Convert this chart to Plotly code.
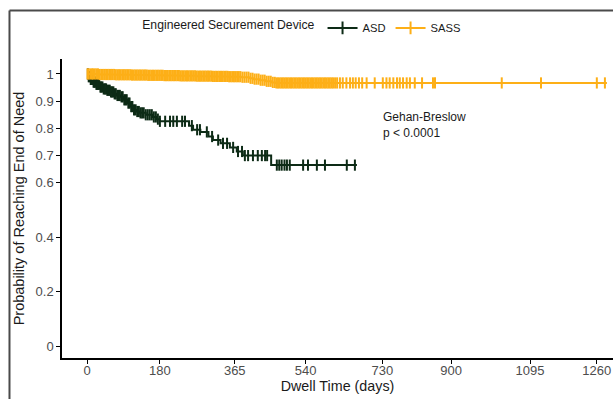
import numpy as np
import plotly.graph_objects as go

# ---------------- data ----------------
x_ticks = [0, 180, 365, 540, 730, 900, 1095, 1260]
y_ticks = [0, 0.2, 0.4, 0.6, 0.7, 0.8, 0.9, 1]
y_tick_labels = ["0", "0.2", "0.4", "0.6", "0.7", "0.8", "0.9", "1"]

asd_event_times = [3, 8, 15, 22, 32, 40, 48, 57, 66, 74, 82, 90, 99, 106, 114, 122,
                   131, 145, 163, 172, 180, 252, 262, 280, 300, 311, 330, 353, 370,
                   385, 455]
asd_surv = [0.99, 0.98, 0.97, 0.962, 0.952, 0.945, 0.94, 0.934, 0.927, 0.921, 0.916,
            0.905, 0.893, 0.88, 0.868, 0.862, 0.857, 0.85, 0.842, 0.834, 0.826,
            0.81, 0.795, 0.787, 0.77, 0.757, 0.745, 0.73, 0.715, 0.70, 0.665]
asd_end = 667
asd_censor = [2, 4, 6, 9, 11, 13, 16, 18, 20, 23, 25, 27, 30, 33, 35, 38, 41, 44, 47,
              50, 53, 56, 59, 62, 65, 68, 71, 75, 78, 81, 85, 88, 92, 95, 98, 102,
              105, 109, 112, 116, 120, 124, 128, 132, 136, 140, 145, 150, 155, 160,
              165, 170, 175, 180, 193, 205, 213, 222, 235, 242, 259, 272, 279, 296,
              309, 324, 336, 346, 361, 373, 383, 390, 398, 410, 422, 432, 440, 445,
              469, 475, 481, 488, 494, 501, 534, 546, 568, 588, 642, 662]

sass_event_times = [30, 70, 110, 150, 190, 230, 270, 310, 350, 380, 400, 410, 425,
                    440, 455, 465]
sass_surv = [0.998, 0.997, 0.996, 0.995, 0.994, 0.993, 0.992, 0.991, 0.99, 0.988,
             0.984, 0.981, 0.977, 0.973, 0.969, 0.967]
sass_end = 1285
sass_censor = [1, 4, 8, 12, 15, 19, 23, 27, 31, 35, 39, 43, 47, 51, 55, 59, 63, 67,
               71, 75, 79, 83, 87, 91, 95, 99, 103, 107, 111, 115, 119, 123, 127, 131,
               135, 139, 143, 147, 151, 155, 159, 163, 167, 171, 175, 179, 183, 187,
               191, 195, 199, 203, 207, 211, 215, 219, 223, 227, 231, 235, 239, 243,
               247, 251, 255, 259, 263, 267, 271, 275, 279, 283, 287, 291, 295, 299,
               303, 307, 311, 315, 319, 323, 327, 331, 335, 339, 343, 347, 351, 355,
               359, 363, 367, 371, 375, 379, 384, 389, 394, 399, 404, 409, 414, 419,
               424, 429, 434, 439, 444, 449, 454, 459, 464, 468, 472, 476, 480, 484,
               488, 492, 496, 500, 504, 508, 512, 516, 520, 524, 528, 532, 536, 540,
               544, 548, 552, 556, 560, 564, 568, 572, 576, 580, 584, 588, 592, 596,
               600, 604, 608, 613, 618, 625, 632, 641, 650, 657, 664, 672, 680, 691,
               711, 731, 740, 748, 757, 766, 773, 781, 790, 798, 810, 828, 855, 860,
               1025, 1122, 1260, 1280]

asd_color = "#0D2B16"
sass_color = "#FDAF17"


def step_value(times, surv, t):
    times = np.asarray(times)
    surv = np.asarray(surv)
    idx = np.searchsorted(times, t, side="right") - 1
    return np.where(idx < 0, 1.0, surv[np.clip(idx, 0, None)])


fig = go.Figure()

for name, et, sv, end, cens, col in [
    ("ASD", asd_event_times, asd_surv, asd_end, asd_censor, asd_color),
    ("SASS", sass_event_times, sass_surv, sass_end, sass_censor, sass_color),
]:
    lx = [0] + et + [end]
    ly = [1.0] + sv + [sv[-1]]
    fig.add_trace(go.Scatter(x=lx, y=ly, mode="lines", line=dict(color=col, width=2, shape="hv"),
                             showlegend=False, hoverinfo="skip"))
    cy = step_value(et, sv, np.asarray(cens))
    fig.add_trace(go.Scatter(x=cens, y=cy, mode="markers",
                             marker=dict(symbol="line-ns", size=8, line=dict(color=col, width=2)),
                             showlegend=False, hoverinfo="skip"))
    fig.add_trace(go.Scatter(x=[None], y=[None], mode="lines+markers", name=name,
                             line=dict(color=col, width=2),
                             marker=dict(symbol="cross-thin", size=9, line=dict(color=col, width=2))))

fig.add_annotation(x=726, y=0.812, xref="x", yref="y", text="Gehan-Breslow<br>p &lt; 0.0001",
                   showarrow=False, xanchor="left", yanchor="middle", align="left",
                   font=dict(size=12, color="#1a1a1a"))

# outer frame lines (top and left)
fig.add_shape(type="line", xref="paper", yref="paper", x0=-0.0953, x1=1.05, y0=1.162, y1=1.162,
              line=dict(color="#4a4a4a", width=2))
fig.add_shape(type="line", xref="paper", yref="paper", x0=-0.0953, x1=-0.0953, y0=1.162, y1=-0.2,
              line=dict(color="#4a4a4a", width=2))

fig.update_layout(
    width=613, height=399,
    margin=dict(l=62, r=0, t=59, b=41, autoexpand=False),
    paper_bgcolor="white", plot_bgcolor="white",
    font=dict(family="Liberation Sans, Arial, sans-serif", size=13, color="#1a1a1a"),
    legend=dict(orientation="h", x=0.142, xanchor="left", y=1.104, yanchor="middle",
                title=dict(text="Engineered Securement Device", font=dict(size=12.2)),
                font=dict(size=11.2), itemwidth=30, bgcolor="rgba(0,0,0,0)"),
)
fig.update_xaxes(range=[-62, 1300], tickvals=x_ticks, ticktext=[str(v) for v in x_ticks],
                 showgrid=False, zeroline=False, showline=True, linecolor="black", linewidth=1.5,
                 ticks="outside", ticklen=4, tickcolor="black", tickwidth=1.2, automargin=False,
                 ticklabelstandoff=-4,
                 tickfont=dict(size=13, color="#4d4d4d"),
                 title=dict(text="Dwell Time (days)", font=dict(size=14.3, color="#1a1a1a"), standoff=3))
fig.update_yaxes(range=[-0.044, 1.055], tickvals=y_ticks, ticktext=y_tick_labels,
                 showgrid=False, zeroline=False, showline=True, linecolor="black", linewidth=1.5,
                 ticks="outside", ticklen=4, tickcolor="black", tickwidth=1.2, automargin=False,
                 tickfont=dict(size=13, color="#4d4d4d"),
                 title=dict(text="Probability of Reaching End of Need", font=dict(size=14.5, color="#1a1a1a"),
                            standoff=7))

fig.write_html("out.html", config={"displayModeBar": False},
               post_script="document.body.style.margin='0px';document.body.style.overflow='hidden';")
